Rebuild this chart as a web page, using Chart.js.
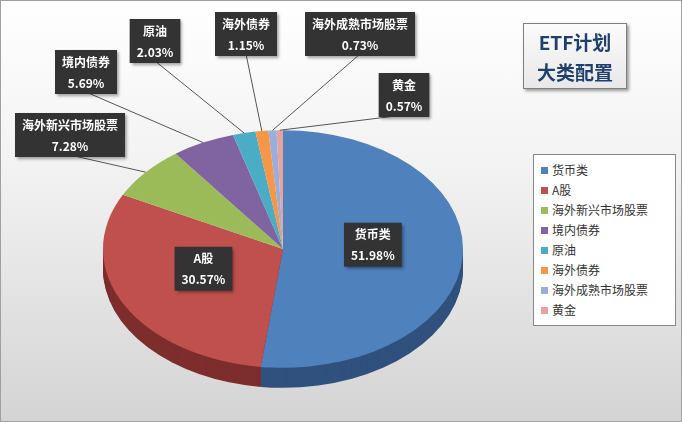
<!DOCTYPE html>
<html><head><meta charset="utf-8">
<script src="https://cdn.jsdelivr.net/npm/chart.js@4.4.0/dist/chart.umd.min.js"></script>
<style>
body{margin:0;width:682px;height:422px;overflow:hidden;font-family:"Noto Sans CJK SC",sans-serif}
#wrap{position:relative;width:680px;height:420px;border:1px solid #a0a0a0;background:linear-gradient(#ffffff,#f2f2f2 40%,#d4d4d4)}
#title{position:absolute;left:522px;top:22px;width:104px;height:66px;border:1px solid #7f7f7f;background:linear-gradient(#fbfbfb,#e8e8e8);box-shadow:2px 2px 3px #999;color:#1f3f6e;font-weight:bold;font-size:19px;line-height:30px;text-align:center;padding-top:3px;box-sizing:border-box}
#legend{position:absolute;left:532px;top:153px;width:143px;height:172px;border:1px solid #888;background:#fff;box-sizing:border-box;padding:5px 0 0 7px;font-size:12px;color:#333}
#legend div{height:20px;line-height:20px}
#legend span{display:inline-block;width:7px;height:7px;margin-right:4px;vertical-align:1px}
</style></head><body>
<div id="wrap"><canvas id="c" width="680" height="420"></canvas>
<div id="title">ETF计划<br>大类配置</div><div id="legend"></div></div>
<script>
const categories = ['货币类','A股','海外新兴市场股票','境内债券','原油','海外债券','海外成熟市场股票','黄金'];
const values = [51.98, 30.57, 7.28, 5.69, 2.03, 1.15, 0.73, 0.57];
const colors = ['#4f81bd','#c0504d','#9bbb59','#8064a2','#4bacc6','#f79646','#9aaedb','#e6a39e'];
const darkColors = ['#30517d','#7d2e2c','#62793a','#4f3d66','#2e7084','#a8621f','#60709a','#9c6a66'];
// label box centers (layout), null = inside slice
const labelPos = [null, null, [69,134], [85,71], [154,40], [245,33], [359,33], [403,94]];

const K = 0.66, TX = 282, TY = 248, DEPTH = 20;
const leg = document.getElementById('legend');
categories.forEach((c,i)=>{leg.innerHTML += `<div><span style="background:${colors[i]}"></span>${c}</div>`;});

function toScreen(chart, x, y){
  const a = chart.chartArea, cx=(a.left+a.right)/2, cy=(a.top+a.bottom)/2;
  return [TX + (x-cx), TY + (y-cy)*K];
}
const pie3d = {
  id:'pie3d',
  beforeDatasetsDraw(chart){
    const ctx = chart.ctx, a = chart.chartArea, cx=(a.left+a.right)/2, cy=(a.top+a.bottom)/2;
    ctx.save();
    const arcs = chart.getDatasetMeta(0).data;
    for(let d=DEPTH; d>0; d--){
      ctx.save();
      ctx.translate(TX, TY+d); ctx.scale(1,K); ctx.translate(-cx,-cy);
      arcs.forEach((arc,i)=>{
        const s=Math.max(arc.startAngle,0), e=Math.min(arc.endAngle,Math.PI);
        if(e<=s) return;
        ctx.beginPath(); ctx.moveTo(arc.x,arc.y);
        ctx.arc(arc.x,arc.y,arc.outerRadius,s,e); ctx.closePath();
        ctx.fillStyle=darkColors[i]; ctx.fill();
      });
      ctx.restore();
    }
    ctx.translate(TX,TY); ctx.scale(1,K); ctx.translate(-cx,-cy);
  },
  afterDatasetsDraw(chart){
    chart.ctx.restore();
    const ctx = chart.ctx, arcs = chart.getDatasetMeta(0).data;
    ctx.font='bold 12px "Noto Sans CJK SC"'; ctx.textAlign='center'; ctx.textBaseline='middle';
    arcs.forEach((arc,i)=>{
      const mid=(arc.startAngle+arc.endAngle)/2;
      const t1=categories[i], t2=values[i].toFixed(2)+'%';
      let bx, by;
      if(!labelPos[i]){
        [bx,by]=toScreen(chart, arc.x+Math.cos(mid)*arc.outerRadius*0.5, arc.y+Math.sin(mid)*arc.outerRadius*0.5);
        by -= 8;
      } else {
        [bx,by]=labelPos[i];
        const [ex,ey]=toScreen(chart, arc.x+Math.cos(mid)*arc.outerRadius, arc.y+Math.sin(mid)*arc.outerRadius);
        ctx.strokeStyle='#555'; ctx.lineWidth=1;
        ctx.beginPath(); ctx.moveTo(bx, by+(ey>by?20:0)); ctx.lineTo(ex,ey); ctx.stroke();
      }
      const w=Math.max(ctx.measureText(t1).width,ctx.measureText(t2).width)+14, h=44;
      ctx.shadowColor='rgba(0,0,0,0.4)'; ctx.shadowOffsetX=2; ctx.shadowOffsetY=2; ctx.shadowBlur=3;
      ctx.fillStyle='#333'; ctx.fillRect(bx-w/2,by-h/2,w,h);
      ctx.shadowColor='transparent';
      ctx.fillStyle='#fff'; ctx.fillText(t1,bx,by-10); ctx.fillText(t2,bx,by+11);
    });
  }
};
new Chart(document.getElementById('c'), {
  type:'pie',
  data:{labels:categories, datasets:[{data:values, backgroundColor:colors, borderWidth:0}]},
  options:{responsive:false, animation:false, rotation:0,
    layout:{padding:{left:102,right:218,top:30,bottom:30}},
    plugins:{legend:{display:false}, tooltip:{enabled:false}}},
  plugins:[pie3d]
});
</script></body></html>
